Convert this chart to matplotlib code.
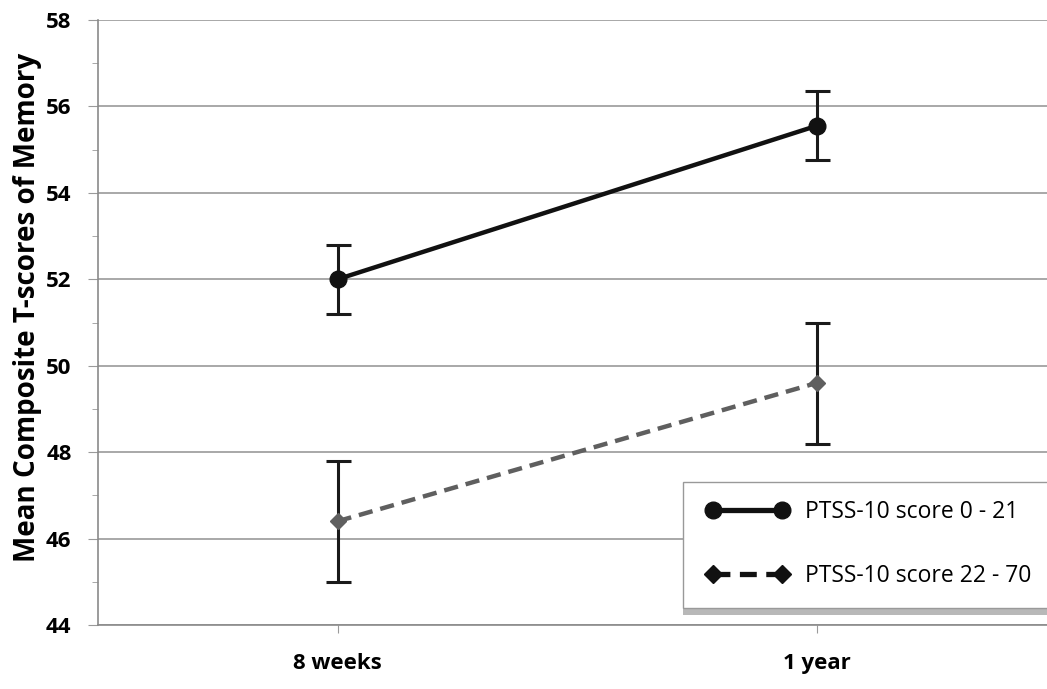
import matplotlib
matplotlib.use("Agg")
import matplotlib.pyplot as plt
from matplotlib.lines import Line2D
from matplotlib.patches import Rectangle

# Mean composite memory T-scores at the two follow-up points
TIMEPOINTS = ["8 weeks", "1 year"]
LOW_PTSS_MEAN = [52.0, 55.55]
LOW_PTSS_ERR = [0.8, 0.8]
HIGH_PTSS_MEAN = [46.4, 49.6]
HIGH_PTSS_ERR = [1.4, 1.4]
SERIES_LABELS = ["PTSS-10 score 0 - 21", "PTSS-10 score 22 - 70"]

W, H = 1047, 689
plt.rcParams["font.family"] = ["Open Sans", "DejaVu Sans"]

fig = plt.figure(figsize=(W / 100, H / 100), dpi=100)
ax = fig.add_axes([98 / W, 1 - 625 / H, 0.915, 605 / H])

x = list(range(len(TIMEPOINTS)))
dash = (0, (3.2, 1.8))

ax.errorbar(x, HIGH_PTSS_MEAN, yerr=HIGH_PTSS_ERR, fmt="none", ecolor="#1a1a1a",
            elinewidth=2.2, capsize=9, capthick=2.2, zorder=3)
ax.plot(x, HIGH_PTSS_MEAN, color="#5f5f5f", linestyle=dash, linewidth=3.2,
        marker="D", markersize=8, markerfacecolor="#5f5f5f", markeredgecolor="#5f5f5f",
        zorder=4)

ax.errorbar(x, LOW_PTSS_MEAN, yerr=LOW_PTSS_ERR, fmt="none", ecolor="#1a1a1a",
            elinewidth=2.2, capsize=9, capthick=2.2, zorder=3)
ax.plot(x, LOW_PTSS_MEAN, color="#111111", linewidth=3.2, marker="o", markersize=12,
        markerfacecolor="#111111", markeredgecolor="#111111", zorder=5)

ax.set_xlim(-0.5, 1.5)
ax.set_ylim(44, 58)
ax.set_yticks(range(44, 59, 2))
ax.set_yticks(range(45, 58, 2), minor=True)
ax.set_xticks(x)
ax.set_xticklabels(TIMEPOINTS, fontsize=16, fontweight="bold")
for lab in ax.get_yticklabels():
    lab.set_fontsize(16)
    lab.set_fontweight("bold")

ax.grid(axis="y", color="#9a9a9a", linewidth=1.2)
ax.set_axisbelow(True)
for side in ("top", "right"):
    ax.spines[side].set_visible(False)
for side in ("left", "bottom"):
    ax.spines[side].set_color("#8a8a8a")
    ax.spines[side].set_linewidth(1.2)
ax.tick_params(axis="y", which="major", length=7, color="#9a9a9a", pad=12)
ax.tick_params(axis="y", which="minor", length=4, color="#9a9a9a")
ax.tick_params(axis="x", length=6, color="#9a9a9a", pad=14)

ax.set_ylabel("Mean Composite T-scores of Memory", fontsize=20, fontweight="bold")
ax.yaxis.set_label_coords(-0.058, 0.525)

# Legend box runs off the right edge, with a soft shadow under it
box_x0, box_y0, box_x1, box_y1 = 683, 482, 1070, 608
fig.patches.append(Rectangle((box_x0 / W, 1 - (box_y1 + 7) / H),
                             (box_x1 - box_x0) / W, (box_y1 - box_y0) / H,
                             transform=fig.transFigure, facecolor="#b8b8b8",
                             edgecolor="none", zorder=5))
fig.patches.append(Rectangle((box_x0 / W, 1 - box_y1 / H),
                             (box_x1 - box_x0) / W, (box_y1 - box_y0) / H,
                             transform=fig.transFigure, facecolor="white",
                             edgecolor="#999999", linewidth=1.0, zorder=6))

handles = [
    Line2D([], [], color="#111111", linewidth=3.8, marker="o", markersize=12),
    Line2D([], [], color="#111111", linewidth=3.8, linestyle=dash,
           marker="D", markersize=9),
]
leg = fig.legend(handles, SERIES_LABELS, loc="upper left", numpoints=2,
                 bbox_to_anchor=(706 / W, 1 - 500 / H), fontsize=16.5,
                 frameon=False, labelspacing=1.75, handlelength=3.6,
                 handletextpad=0.7, borderpad=0, borderaxespad=0)
leg.set_zorder(7)

fig.savefig("out.png", dpi=100)
